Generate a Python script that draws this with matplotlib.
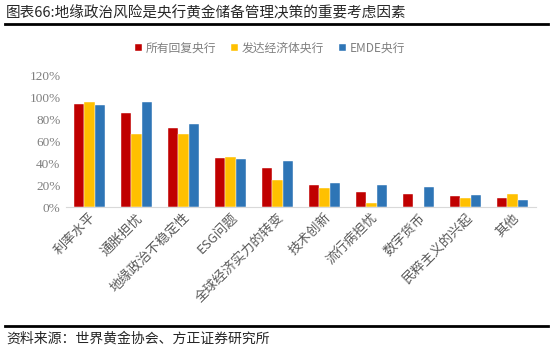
import matplotlib.pyplot as plt
import numpy as np
from matplotlib.ticker import PercentFormatter

plt.rcParams['font.family'] = ['Noto Sans CJK SC', 'DejaVu Sans']

categories = ["利率水平", "通胀担忧", "地缘政治不稳定性", "ESG问题", "全球经济实力的转变",
              "技术创新", "流行病担忧", "数字货币", "民粹主义的兴起", "其他"]
all_banks = [94, 86, 72, 45, 36, 20, 14, 12, 10, 8]
advanced = [96, 67, 67, 46, 25, 17, 4, 0, 8, 12]
emde = [93, 96, 76, 44, 42, 22, 20, 18, 11, 6]

series = [("所有回复央行", all_banks, "#C00000"),
          ("发达经济体央行", advanced, "#FFC000"),
          ("EMDE央行", emde, "#2E75B6")]

fig = plt.figure(figsize=(5.54, 3.53), dpi=100)
ax = fig.add_axes([66 / 554, 146 / 353, 470 / 554, 131 / 353])

x = np.arange(len(categories))
w = 0.22
for i, (name, vals, color) in enumerate(series):
    ax.bar(x + (i - 1) * w, vals, w, color=color, label=name, edgecolor="white", linewidth=0.3)

ax.set_xlim(-0.5, len(categories) - 0.5)
ax.set_ylim(0, 120)
ax.set_yticks(range(0, 121, 20))
ax.yaxis.set_major_formatter(PercentFormatter(decimals=0))
for lab in ax.get_yticklabels():
    lab.set_family("Liberation Serif")
ax.tick_params(axis="y", length=0, labelsize=9.5, colors="#7f7f7f", pad=4)
ax.tick_params(axis="x", length=0, colors="#595959", pad=3)
ax.set_xticks(x)
ax.set_xticklabels(categories, rotation=45, ha="right", va="top", fontsize=9.5,
                   rotation_mode="anchor")
for s in ["top", "right", "left"]:
    ax.spines[s].set_visible(False)
ax.spines["bottom"].set_color("#d9d9d9")

ax.legend(loc="center", bbox_to_anchor=(270 / 554, 1 - 48 / 353), bbox_transform=fig.transFigure,
          ncol=3, frameon=False, fontsize=8.5, handlelength=0.6, handleheight=0.6,
          handletextpad=0.3, columnspacing=1.3, labelcolor="#7f7f7f")

fig.text(6 / 554, 1 - 13 / 353, "图表66:地缘政治风险是央行黄金储备管理决策的重要考虑因素",
         fontsize=10.5, fontweight="medium", color="#262626", va="center", ha="left")
fig.add_artist(plt.Line2D([5 / 554, 548 / 554], [1 - 23.5 / 353] * 2, color="black", lw=2,
                          transform=fig.transFigure))
fig.add_artist(plt.Line2D([5 / 554, 548 / 554], [1 - 326 / 353] * 2, color="black", lw=2,
                          transform=fig.transFigure))
fig.text(6 / 554, 1 - 339 / 353, "资料来源：世界黄金协会、方正证券研究所", fontsize=10,
         style="italic", color="#262626", va="center", ha="left")

fig.savefig("out.png", dpi=100)
